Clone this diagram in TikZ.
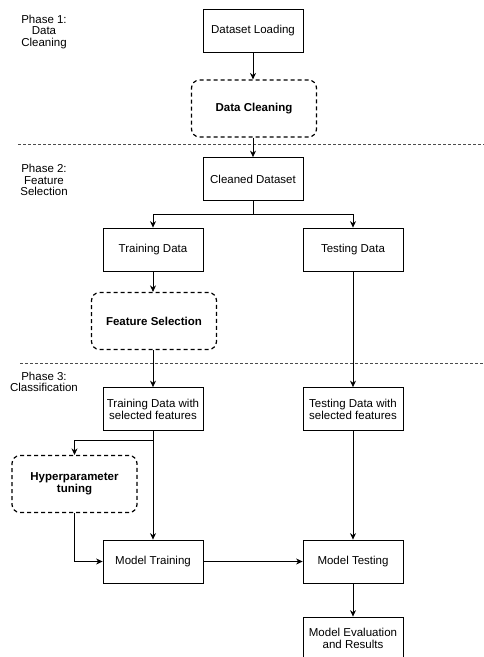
\documentclass[tikz,border=0pt]{standalone}
\usepackage{fontspec}
\setmainfont{Liberation Sans}
\usetikzlibrary{arrows.meta}
\begin{document}
\begin{tikzpicture}[x=1pt,y=-1pt,
  font=\fontsize{11.5}{12}\selectfont,
  stepbox/.style={draw=black,line width=0.8pt,minimum width=100pt,minimum height=43pt,inner sep=0pt,align=center},
  taskbox/.style={draw=black,line width=1.2pt,dash pattern=on 4pt off 3pt,rounded corners=8pt,minimum width=125pt,minimum height=57pt,inner sep=0pt,align=center,font=\fontsize{11.5}{12}\selectfont\bfseries},
  phase/.style={align=center,font=\fontsize{11.5}{11.5}\selectfont},
  flow/.style={line width=0.8pt,-{Stealth[length=6.5pt,width=6pt]}},
  sep/.style={draw=black!70,line width=0.6pt,dash pattern=on 2.5pt off 2.5pt}]
\useasboundingbox (0,0) rectangle (484,657);

% phase labels
\node[phase] (p1) at (44,32) {Phase 1:\\Data\\Cleaning};
\node[phase] (p2) at (44,180) {Phase 2:\\Feature\\Selection};
\node[phase] (p3) at (44,382) {Phase 3:\\Classification};

% phase separators
\coordinate (s1a) at (18,144);
\coordinate (s1b) at (484,144);
\coordinate (s2a) at (20,363);
\coordinate (s2b) at (484,363);
\draw[sep] (s1a) -- (s1b);
\draw[sep] (s2a) -- (s2b);

% steps
\node[stepbox] (load) at (253,30.5) {Dataset Loading};
\node[taskbox] (clean) at (254,108.5) {Data Cleaning};
\node[stepbox] (cleaned) at (253,179) {Cleaned Dataset};
\node[stepbox] (train) at (153,249.5) {Training Data};
\node[stepbox] (test) at (353,249.5) {Testing Data};
\node[taskbox] (fsel) at (154,321) {Feature Selection};
\node[stepbox] (trainsel) at (153,409) {Training Data with\\selected features};
\node[stepbox] (testsel) at (353,409) {Testing Data with\\selected features};
\node[taskbox] (hyper) at (74.5,484) {Hyperparameter\\tuning};
\node[stepbox] (mtrain) at (153,561.5) {Model Training};
\node[stepbox] (mtest) at (353,561.5) {Model Testing};
\node[stepbox] (eval) at (353,638.5) {Model Evaluation\\and Results};

% connectors
\draw[flow] (load) -- (load.south |- clean.north);
\draw[flow] (clean.south -| load) -- (cleaned);
\coordinate (split) at (253,214);
\draw[line width=0.8pt] (cleaned) -- (split);
\draw[flow] (split) -| (train);
\draw[flow] (split) -| (test);
\draw[flow] (train) -- (train.south |- fsel.north);
\draw[flow] (fsel.south -| train) -- (trainsel);
\draw[flow] (test) -- (testsel);
\coordinate (hsplit) at (153,440);
\draw[flow] (trainsel.south) -- (hsplit) -| (hyper.north);
\draw[flow] (hsplit) -- (mtrain);
\draw[flow] (hyper.south) |- (mtrain.west);
\draw[flow] (mtrain) -- (mtest);
\draw[flow] (testsel) -- (mtest);
\draw[flow] (mtest) -- (eval);
\end{tikzpicture}
\end{document}
